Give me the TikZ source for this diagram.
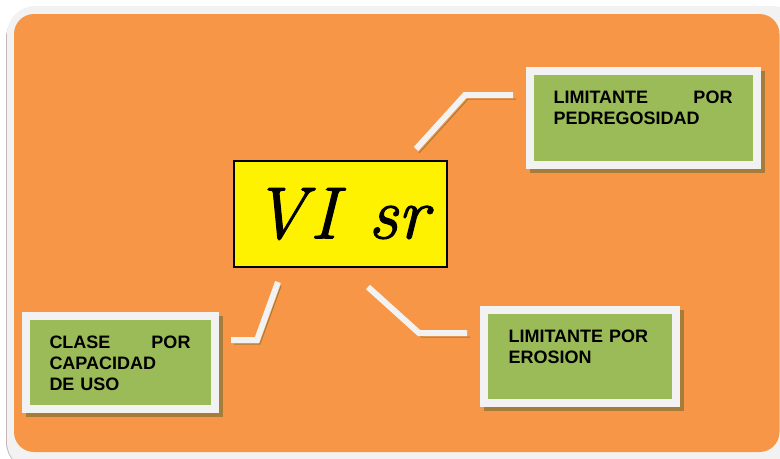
\documentclass[tikz,border=0pt]{standalone}
\usepackage{fontspec}
\newfontfamily\boxfont{Liberation Sans}
\newfontfamily\visrfont{Latin Modern Roman}[FakeBold=1.6]
\usetikzlibrary{positioning}

\definecolor{framewhite}{RGB}{242,242,242}
\definecolor{frameorange}{RGB}{247,150,70}
\definecolor{framegray}{RGB}{196,182,186}
\definecolor{boxgreen}{RGB}{155,187,89}
\definecolor{shadowbrown}{RGB}{166,124,58}

\tikzset{every picture/.style={line width=0.75pt}}
\tikzset{
  greenbox/.style={draw=framewhite, fill=boxgreen, line width=6pt, inner sep=0pt,
    preaction={draw=shadowbrown, fill=shadowbrown, transform canvas={xshift=3pt, yshift=-3pt}}},
  boxtext/.style={anchor=north west, inner sep=0pt, align=left,
    font=\boxfont\bfseries\fontsize{13.5}{15.75}\selectfont},
  branch/.style={draw=framewhite, line width=4.5pt, line join=miter,
    preaction={draw=shadowbrown, transform canvas={xshift=2.25pt, yshift=-3pt}}},
}

\begin{document}
\begin{tikzpicture}[x=0.75pt,y=0.75pt,yscale=-1,xscale=1]
\useasboundingbox (0,0) rectangle (780,458);

%Frame
\fill[framegray, rounded corners=21pt] (6,10) rectangle (800,470);
\fill[framewhite, rounded corners=21pt] (7,6) rectangle (800,470);
\fill[frameorange, rounded corners=15pt] (14,14) rectangle (779.5,452);

%Shape: Rectangle
\node[draw=black, fill=yellow, line width=1.5pt, minimum width=159.75pt, minimum height=79.5pt, inner sep=0pt] (visr) at (340.5,214)
  {\visrfont\fontsize{55}{60}\selectfont\itshape V\kern3pt I\hspace{0.42em}sr};

%Shape: Rectangle
\node[greenbox, minimum width=170.25pt, minimum height=70.5pt] (pedreg) at (643.5,118) {};
%Shape: Rectangle
\node[greenbox, minimum width=141.75pt, minimum height=69.75pt] (clase) at (120.5,362.5) {};
%Shape: Rectangle
\node[greenbox, minimum width=144pt, minimum height=69.75pt] (erosion) at (580,356.5) {};

%Straight Lines
\coordinate (p1) at (416,149);
\coordinate (p2) at (465,95);
\coordinate (p3) at (513,95);
\draw[branch] (p1) -- (p2) -- (p3);
%Straight Lines
\coordinate (c1) at (278,282);
\coordinate (c2) at (257,340);
\coordinate (c3) at (231,340);
\draw[branch] (c1) -- (c2) -- (c3);
%Straight Lines
\coordinate (e1) at (368,287);
\coordinate (e2) at (419,333);
\coordinate (e3) at (467,333);
\draw[branch] (e1) -- (e2) -- (e3);

% Text Node
\node[boxtext, text width=134.25pt] (pedregtxt) at ([shift={(27,23)}]pedreg.north west) {LIMITANTE\hfill POR\\PEDREGOSIDAD};
% Text Node
\node[boxtext, text width=105.75pt] (clasetxt) at ([shift={(27,23)}]clase.north west) {CLASE\hfill POR\\CAPACIDAD\\DE USO};
% Text Node
\node[boxtext, text width=120pt] (erosiontxt) at ([shift={(28,23)}]erosion.north west) {LIMITANTE POR\\EROSION};

\end{tikzpicture}
\end{document}
